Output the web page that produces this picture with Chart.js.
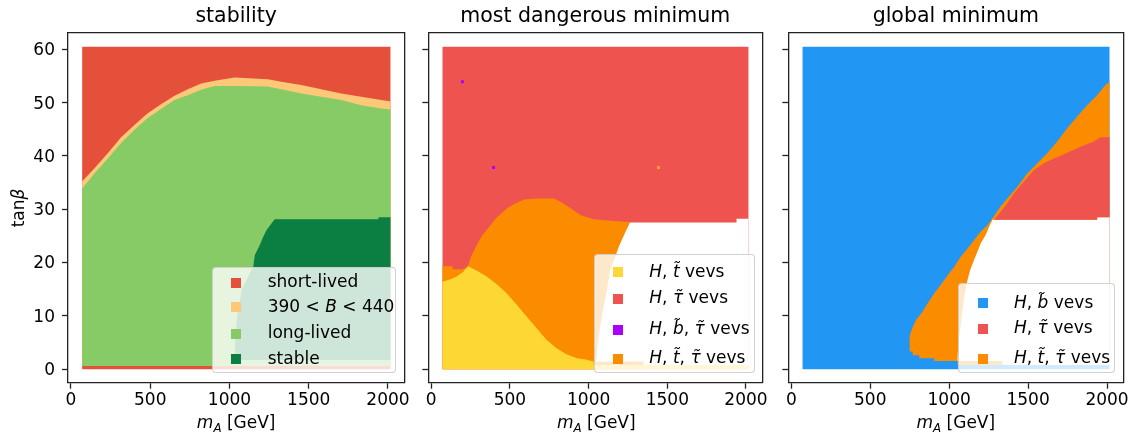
<!DOCTYPE html>
<html>
<head>
<meta charset="utf-8">
<script src="https://cdn.jsdelivr.net/npm/chart.js@4.4.0/dist/chart.umd.min.js"></script>
<style>
  html, body { margin: 0; padding: 0; background: #fff; }
  #wrap { position: relative; width: 1136px; height: 434px; overflow: hidden; font-family: 'DejaVu Sans', sans-serif; color: #000; }
  canvas { position: absolute; top: 0; }
  .lbl { position: absolute; font-size: 17px; line-height: 20px; white-space: nowrap; }
  .leg { position: absolute; box-sizing: border-box; background: rgba(255,255,255,0.8); border: 1px solid rgba(204,204,204,0.9); border-radius: 4px; }
  .mk { position: absolute; width: 10px; height: 10px; }
  sub { font-size: 70%; vertical-align: -0.3em; line-height: 0; }
</style>
</head>
<body>
<div id="wrap">
  <canvas id="c1" width="414" height="434" style="left:0px"></canvas>
  <canvas id="c2" width="356" height="434" style="left:414px"></canvas>
  <canvas id="c3" width="360" height="434" style="left:774px"></canvas>
</div>
<script>
// ---- data ----
const xTicks = [0, 500, 1000, 1500, 2000];
const yTicks = [0, 10, 20, 30, 40, 50, 60];
const titles = ['stability', 'most dangerous minimum', 'global minimum'];

// outer edges of the scanned grid
const gridX = [70, 2017];
const gridBottom = [-0.05, -0.05];
const gridTop = [60.5, 60.5];

// stability panel
const stabStripTop = [0.55, 0.55];
const stabEdgeX = [70, 148, 232, 316, 400, 484, 568, 653, 737, 821, 906, 1032, 1242, 1326, 1453, 1579, 1705, 1831, 1958, 2017];
const stabBandTop = [35.2, 37.7, 40.5, 43.5, 45.8, 48.0, 49.7, 51.3, 52.5, 53.6, 54.1, 54.7, 54.4, 53.9, 53.3, 52.5, 51.7, 51.1, 50.5, 50.2];
const stabLongTop = [33.9, 36.7, 39.5, 42.4, 44.9, 47.1, 48.8, 50.5, 51.4, 52.4, 53.1, 53.1, 53.0, 52.5, 51.7, 51.1, 50.5, 49.5, 48.9, 48.7];
const stableX = [1035, 1035, 1048, 1078, 1150, 1160, 1187, 1213, 1234, 1285, 1939, 1940, 2017];
const stableTop = [1.7, 5.0, 10.0, 15.0, 19.2, 21.4, 23.0, 24.8, 26.1, 28.1, 28.1, 28.5, 28.5];
const stableBaseX = [1035, 2017];
const stableBase = [1.7, 1.7];

// most dangerous minimum panel
const mddOrangeX = [70, 135, 136, 200, 232, 253, 284, 326, 369, 411, 484, 537, 590, 674, 779, 821, 884, 947, 1032, 1158, 1263, 1263, 1348];
const mddOrangeTop = [19.3, 19.3, 18.7, 18.7, 19.3, 21.1, 23.0, 25.2, 26.7, 28.3, 30.2, 31.1, 31.8, 32.0, 32.0, 31.4, 30.2, 28.9, 28.1, 27.8, 27.6, 1.4, 1.4];
const mddOrangeBaseX = [70, 1348];
const mddOrangeBase = [-0.05, -0.05];
const mddGapX = [1045, 1050, 1053, 1070, 1091, 1116, 1137, 1170, 1192, 1230, 1263, 1939, 1940, 2017];
const mddGapTop = [1.4, 2.3, 3.6, 7.3, 11.1, 14.8, 18.6, 21.1, 23.0, 25.5, 27.5, 27.5, 28.2, 28.2];
const mddGapBaseX = [1045, 1348, 1348, 2017];
const mddGapBase = [1.4, 1.4, 0.75, 0.75];
const mddYellowX = [70, 118, 160, 202, 234, 287, 350, 413, 476, 539, 602, 666, 729, 792, 855, 926, 981, 1032, 1032, 2017];
const mddYellowTop = [16.4, 16.8, 17.3, 18.2, 19.3, 18.5, 17.4, 16.0, 14.3, 12.2, 10.0, 7.8, 5.6, 4.0, 2.8, 2.0, 1.8, 1.4, 0.75, 0.75];
const mddBDotX = [198, 396];
const mddBDotY = [53.9, 37.8];
const mddTDotX = [1444];
const mddTDotY = [37.8];

// global minimum panel
const gmOrangeX = [748, 769, 790, 832, 863, 905, 947, 990, 1032, 1074, 1116, 1158, 1200, 1242, 1274, 1326, 1368, 1432, 1495, 1558, 1621, 1684, 1748, 1811, 1874, 1937, 1990, 2017];
const gmOrangeTop = [6.1, 7.9, 9.2, 10.8, 12.3, 14.2, 15.8, 17.6, 19.2, 21.1, 22.6, 24.2, 25.8, 27.0, 28.3, 30.5, 32.0, 34.2, 36.7, 38.6, 40.5, 42.7, 45.2, 47.4, 49.5, 51.4, 53.3, 53.9];
const gmOrangeBaseX = [748, 769, 769, 811, 811, 905, 905, 1053, 1053, 2017];
const gmOrangeBase = [3.3, 3.3, 2.6, 2.6, 2.0, 2.0, 1.5, 1.5, 0.75, 0.75];
const gmGapX = [1050, 1053, 1057, 1074, 1095, 1116, 1133, 1158, 1179, 1200, 1232, 1253, 1274, 1937, 1938, 2017];
const gmGapTop = [1.5, 2.0, 4.2, 8.6, 13.6, 16.7, 18.6, 20.5, 22.0, 23.6, 25.2, 26.7, 28.0, 28.0, 28.5, 28.5];
const gmGapBaseX = [1050, 1337, 1337, 2017];
const gmGapBase = [1.5, 1.5, 0.75, 0.75];
const gmTauX = [1284, 1326, 1368, 1411, 1474, 1537, 1600, 1663, 1748, 1832, 1916, 1958, 2017];
const gmTauTop = [28.0, 29.5, 31.1, 33.0, 35.2, 37.3, 38.6, 39.5, 40.6, 41.7, 42.7, 43.5, 43.5];
const gmTauBaseX = [1284, 1937, 1937, 2017];
const gmTauBase = [28.0, 28.0, 28.5, 28.5];

// legends
const stabLabels = ['short-lived', '390 &lt; <i>B</i> &lt; 440', 'long-lived', 'stable'];
const stabColors = ['#e5503a', '#fdc878', '#86cb66', '#0b7e42'];
const mddLabels = ['<i>H</i>, <i>t\u0303</i> vevs', '<i>H</i>, <i>\u03c4\u0303</i> vevs', '<i>H</i>, <i>b\u0303</i>, <i>\u03c4\u0303</i> vevs', '<i>H</i>, <i>t\u0303</i>, <i>\u03c4\u0303</i> vevs'];
const mddColors = ['#fdd835', '#ef5350', '#aa00ff', '#fb8c00'];
const gmLabels = ['<i>H</i>, <i>b\u0303</i> vevs', '<i>H</i>, <i>\u03c4\u0303</i> vevs', '<i>H</i>, <i>t\u0303</i>, <i>\u03c4\u0303</i> vevs'];
const gmColors = ['#2196f3', '#ef5350', '#fb8c00'];

// ---- drawing ----
const FONT = "'DejaVu Sans', sans-serif";
const X_MIN = -18.9, X_MAX = 2103;
const Y_MIN = -2.57, Y_MAX = 63.12;

function pts(xs, ys) {
  return xs.map((x, i) => ({x: x, y: ys[i]}));
}

// a filled area between a lower and an upper boundary
function addRegion(sets, color, order, baseX, baseY, topX, topY) {
  const base = sets.length;
  sets.push({data: pts(baseX, baseY), order: order, fill: false, borderWidth: 0, borderColor: 'transparent', pointRadius: 0});
  sets.push({data: pts(topX, topY), order: order, fill: base, backgroundColor: color, borderWidth: 0, borderColor: 'transparent', pointRadius: 0});
}

function addDots(sets, color, order, xs, ys) {
  sets.push({data: pts(xs, ys), order: order, showLine: false, fill: false, pointStyle: 'rect',
    pointRadius: 2.1, pointBackgroundColor: color, pointBorderWidth: 0, borderColor: 'transparent'});
}

function scalesFor(yWidth, showY) {
  const spine = {display: true, color: '#222', width: 1.3};
  const tickGrid = {display: true, drawOnChartArea: false, drawTicks: true, tickLength: 6, tickColor: '#222', tickWidth: 1.3};
  const tickFont = {family: FONT, size: 17};
  return {
    x: {
      type: 'linear', min: X_MIN, max: X_MAX, border: spine, grid: tickGrid,
      ticks: {font: tickFont, color: '#000', padding: 2, autoSkip: false, maxRotation: 0, callback: v => String(v)},
      afterBuildTicks: s => { s.ticks = xTicks.map(v => ({value: v})); },
      afterFit: s => { s.height = 51.3; }
    },
    y: {
      type: 'linear', min: Y_MIN, max: Y_MAX, border: spine, grid: tickGrid,
      ticks: {font: tickFont, color: '#000', padding: 7, labelOffset: 1.5, autoSkip: false, callback: v => showY ? String(v) : ''},
      afterBuildTicks: s => { s.ticks = yTicks.map(v => ({value: v})); },
      afterFit: s => { s.width = yWidth; }
    },
    xt: {
      type: 'linear', axis: 'x', position: 'top', border: spine,
      grid: {display: false, drawTicks: false}, ticks: {display: false},
      afterFit: s => { s.height = 0; }
    },
    yr: {
      type: 'linear', axis: 'y', position: 'right', border: spine,
      grid: {display: false, drawTicks: false}, ticks: {display: false},
      afterFit: s => { s.width = 0; }
    }
  };
}

function makeChart(id, title, sets, yWidth, padRight, showY) {
  return new Chart(document.getElementById(id), {
    type: 'line',
    data: {datasets: sets},
    options: {
      responsive: false,
      animation: false,
      devicePixelRatio: 1,
      events: [],
      layout: {padding: {left: 0, right: padRight, top: 0, bottom: 0}},
      elements: {line: {tension: 0}},
      plugins: {
        legend: {display: false},
        tooltip: {enabled: false},
        title: {display: true, text: title, fullSize: false, color: '#000',
          font: {family: FONT, size: 20.5, weight: 'normal'}, padding: {top: 4, bottom: 4.1}}
      },
      scales: scalesFor(yWidth, showY)
    }
  });
}

// panel 1: stability
const s1 = [];
addRegion(s1, stabColors[0], 9, gridX, gridBottom, gridX, gridTop);
addRegion(s1, stabColors[1], 8, gridX, stabStripTop, stabEdgeX, stabBandTop);
addRegion(s1, stabColors[2], 7, gridX, stabStripTop, stabEdgeX, stabLongTop);
addRegion(s1, stabColors[3], 6, stableBaseX, stableBase, stableX, stableTop);
makeChart('c1', titles[0], s1, 68, 9.7, true);

// panel 2: most dangerous minimum
const s2 = [];
addRegion(s2, mddColors[1], 9, gridX, gridBottom, gridX, gridTop);
addRegion(s2, mddColors[3], 8, mddOrangeBaseX, mddOrangeBase, mddOrangeX, mddOrangeTop);
addRegion(s2, '#ffffff', 7, mddGapBaseX, mddGapBase, mddGapX, mddGapTop);
addRegion(s2, mddColors[0], 6, gridX, gridBottom, mddYellowX, mddYellowTop);
addDots(s2, mddColors[2], 1, mddBDotX, mddBDotY);
addDots(s2, '#fca030', 1, mddTDotX, mddTDotY);
makeChart('c2', titles[1], s2, 14.3, 5.7, false);

// panel 3: global minimum
const s3 = [];
addRegion(s3, gmColors[0], 9, gridX, gridBottom, gridX, gridTop);
addRegion(s3, gmColors[2], 8, gmOrangeBaseX, gmOrangeBase, gmOrangeX, gmOrangeTop);
addRegion(s3, '#ffffff', 7, gmGapBaseX, gmGapBase, gmGapX, gmGapTop);
addRegion(s3, gmColors[1], 6, gmTauBaseX, gmTauBase, gmTauX, gmTauTop);
makeChart('c3', titles[2], s3, 14.3, 10.7, false);

// ---- text outside the canvas: axis titles and legends ----
const wrap = document.getElementById('wrap');
function addDiv(cls, css, html) {
  const d = document.createElement('div');
  d.className = cls;
  d.style.cssText = css;
  d.innerHTML = html || '';
  wrap.appendChild(d);
  return d;
}

[236.2, 596.3, 955.8].forEach(cx => {
  addDiv('lbl', 'left:' + (cx - 100) + 'px;top:412.4px;width:200px;text-align:center;',
    '<i>m</i><sub><i>A</i></sub> [GeV]');
});
addDiv('lbl', 'left:-12px;top:197.7px;width:60px;text-align:center;transform:rotate(-90deg);',
  'tan<i>\u03b2</i>');

function legend(box, markLeft, textLeft, centers, labels, colors) {
  addDiv('leg', 'left:' + box[0] + 'px;top:' + box[1] + 'px;width:' + box[2] + 'px;height:' + box[3] + 'px;');
  labels.forEach((lab, i) => {
    addDiv('mk', 'left:' + markLeft + 'px;top:' + (centers[i] - 5) + 'px;background:' + colors[i] + ';');
    addDiv('lbl', 'left:' + textLeft + 'px;top:' + (centers[i] - 11.3) + 'px;', lab);
  });
}
legend([212, 266.7, 183.7, 106.6], 231, 267.7, [282.7, 307, 333.7, 359], stabLabels, stabColors);
legend([594, 254, 161, 119.3], 613.3, 649.3, [272, 298.7, 329.7, 358.7], mddLabels, mddColors);
legend([958.3, 282.7, 156.7, 90.6], 977.7, 1014, [303, 328.7, 358.7], gmLabels, gmColors);
</script>
</body>
</html>
